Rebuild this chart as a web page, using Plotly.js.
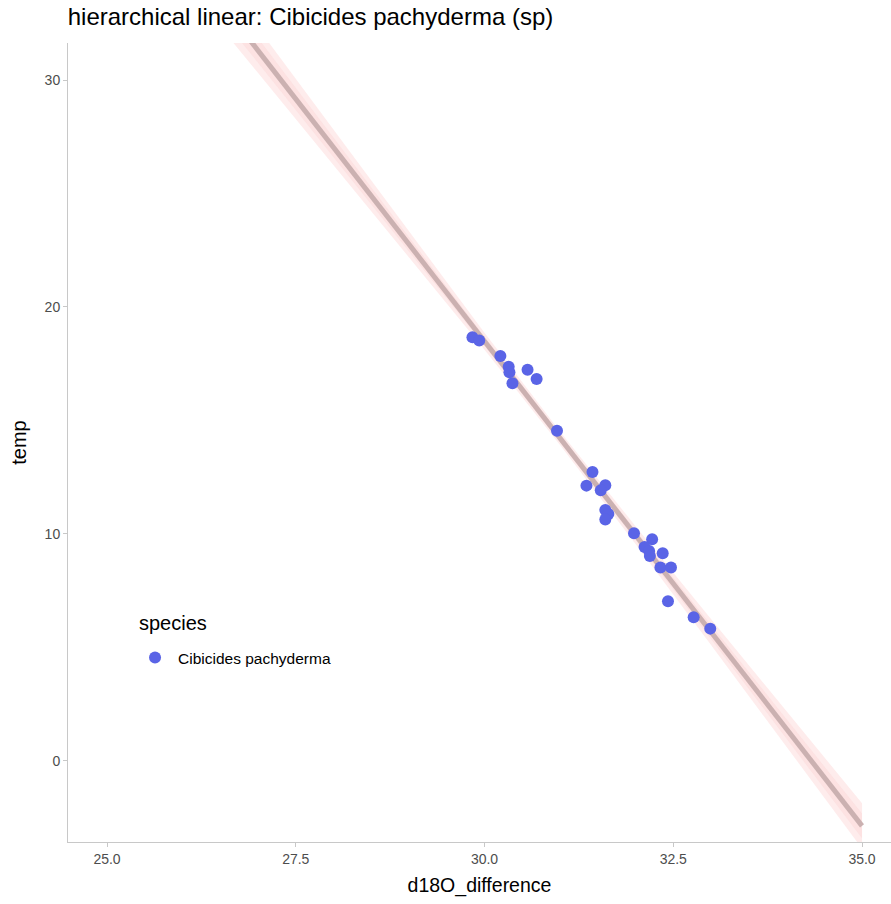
<!DOCTYPE html>
<html>
<head>
<meta charset="utf-8">
<script src="https://cdn.plot.ly/plotly-3.0.1.min.js"></script>
<style>
  html, body { margin: 0; padding: 0; background: #fff; }
  #chart { width: 891px; height: 904px; }
</style>
</head>
<body>
<div id="chart"></div>
<script>
// Observed samples: Cibicides pachyderma
const d18O = [29.84, 29.93, 30.21, 30.32, 30.33, 30.37, 30.57, 30.69, 30.96,
              31.43, 31.35, 31.60, 31.54, 31.60, 31.64, 31.60, 31.98, 32.22,
              32.12, 32.18, 32.19, 32.36, 32.33, 32.47, 32.43, 32.77, 32.99];
const temp = [18.67, 18.52, 17.84, 17.37, 17.12, 16.64, 17.24, 16.83, 14.55,
              12.73, 12.13, 12.15, 11.93, 11.06, 10.88, 10.64, 10.03, 9.77,
              9.43, 9.25, 9.03, 9.15, 8.52, 8.52, 7.04, 6.33, 5.83];

// Posterior fit: mean line and two credible bands
const fitX = [26, 27, 28, 29, 30, 31, 32, 33, 34, 35];
const fitMean = [35.57, 31.30, 27.03, 22.76, 18.49, 14.22, 9.95, 5.68, 1.41, -2.86];
const outerLo = [34.37, 30.32, 26.27, 22.21, 18.12, 13.92, 9.56, 5.11, 0.63, -3.86];
const outerHi = [36.77, 32.28, 27.79, 23.31, 18.86, 14.52, 10.34, 6.25, 2.19, -1.86];
const innerLo = [34.91, 30.76, 26.61, 22.46, 18.29, 14.05, 9.74, 5.37, 0.98, -3.41];
const innerHi = [36.23, 31.84, 27.45, 23.06, 18.69, 14.39, 10.16, 5.99, 1.84, -2.31];

const speciesName = 'Cibicides pachyderma';
const xTicks = [25, 27.5, 30, 32.5, 35];
const xTickText = ['25.0', '27.5', '30.0', '32.5', '35.0'];
const yTicks = [0, 10, 20, 30];

const font = 'Liberation Sans, Arial, sans-serif';

const traces = [
  { x: fitX, y: outerLo, mode: 'lines', line: { width: 0 }, hoverinfo: 'skip', showlegend: false },
  { x: fitX, y: outerHi, mode: 'lines', line: { width: 0 }, fill: 'tonexty',
    fillcolor: 'rgba(253,228,228,0.7)', hoverinfo: 'skip', showlegend: false },
  { x: fitX, y: innerLo, mode: 'lines', line: { width: 0 }, hoverinfo: 'skip', showlegend: false },
  { x: fitX, y: innerHi, mode: 'lines', line: { width: 0 }, fill: 'tonexty',
    fillcolor: 'rgba(251,216,216,0.5)', hoverinfo: 'skip', showlegend: false },
  { x: fitX, y: fitMean, mode: 'lines', line: { color: '#cbb1b1', width: 5 },
    hoverinfo: 'skip', showlegend: false },
  { x: d18O, y: temp, mode: 'markers', name: speciesName,
    marker: { color: '#5a64e6', size: 12 } }
];

const layout = {
  width: 891, height: 904,
  margin: { l: 68, r: 0, t: 43, b: 62 },
  paper_bgcolor: '#fff', plot_bgcolor: '#fff',
  font: { family: font, color: '#000' },
  title: { text: 'hierarchical linear: Cibicides pachyderma (sp)', x: 0.076, xanchor: 'left',
           y: 0.991, yanchor: 'top', font: { size: 24, family: font, color: '#000' } },
  xaxis: {
    range: [24.483, 35.384], showgrid: false, zeroline: false,
    showline: true, linecolor: '#c8c8c8', linewidth: 1,
    ticks: 'outside', ticklen: 4, tickcolor: '#c8c8c8',
    tickvals: xTicks, ticktext: xTickText,
    tickfont: { size: 14, color: '#4d4d4d', family: font },
    title: { text: 'd18O_difference', font: { size: 19.5, color: '#000', family: font }, standoff: 12 }
  },
  yaxis: {
    range: [-3.57, 31.63], showgrid: false, zeroline: false,
    showline: true, linecolor: '#c8c8c8', linewidth: 1,
    ticks: 'outside', ticklen: 4, tickcolor: '#c8c8c8',
    tickvals: yTicks,
    tickfont: { size: 14, color: '#4d4d4d', family: font },
    title: { text: 'temp', font: { size: 20, color: '#000', family: font }, standoff: 12 }
  },
  annotations: [{
    text: 'species', xref: 'paper', yref: 'paper', x: 0.0838, y: 0.274,
    xanchor: 'left', yanchor: 'middle', showarrow: false,
    font: { size: 20, color: '#000', family: font }
  }],
  showlegend: true,
  legend: {
    x: 0.0778, y: 0.2303, xanchor: 'left', yanchor: 'middle',
    bgcolor: 'rgba(0,0,0,0)', itemwidth: 36,
    font: { size: 15.5, color: '#000', family: font }
  }
};

Plotly.newPlot('chart', traces, layout, { displayModeBar: false, staticPlot: true });
</script>
</body>
</html>
